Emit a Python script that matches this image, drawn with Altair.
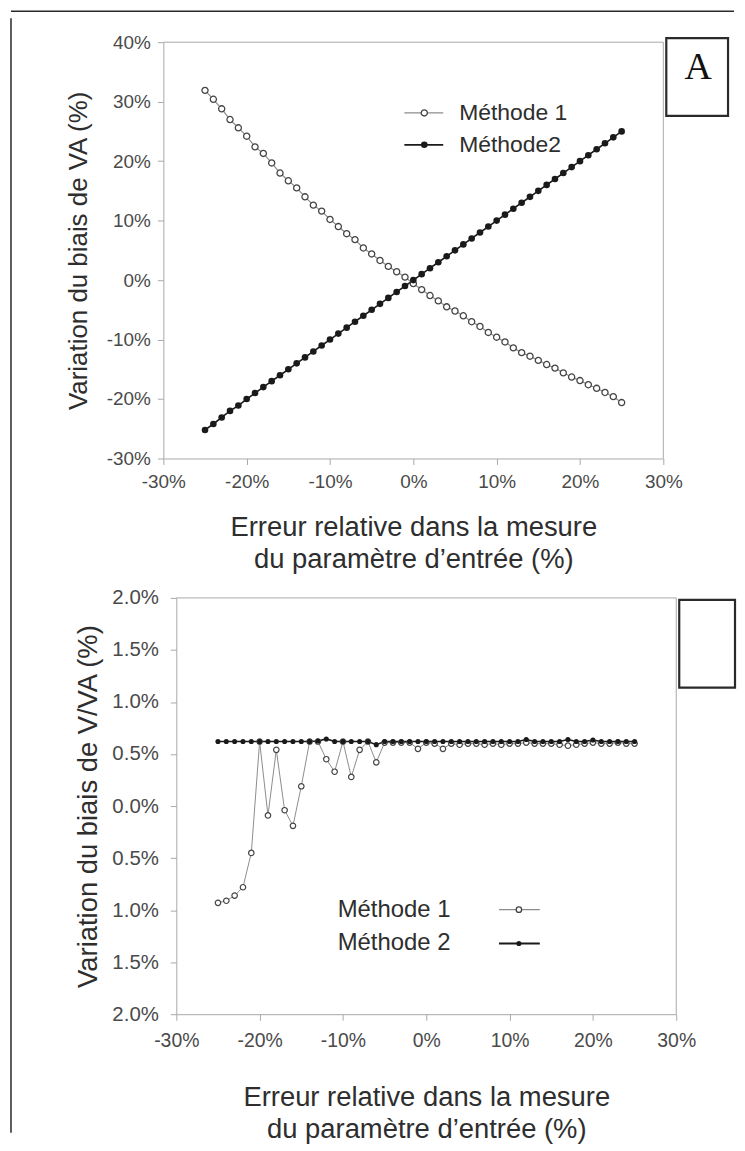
import altair as alt
import pandas as pd

# ---------------- data (values in %) ----------------
errors = list(range(-25, 26))  # relative error of input parameter (%)

# Panel A : variation of VA bias (%)
a_m1 = [31.9, 30.4, 28.8, 27.0, 25.6, 24.2, 22.4, 21.3, 19.7, 18.0,
        16.7, 15.5, 14.0, 12.6, 11.6, 10.2, 9.0, 7.8, 6.8, 5.4,
        4.4, 3.3, 2.3, 1.4, 0.5, -0.6, -1.6, -2.6, -3.5, -4.5,
        -5.2, -6.0, -7.0, -7.8, -8.8, -9.6, -10.4, -11.4, -12.2, -12.8,
        -13.5, -14.2, -14.8, -15.6, -16.3, -16.9, -17.6, -18.2, -18.9, -19.6, -20.6]
a_m2 = [-25.2, -24.2, -23.1, -22.0, -21.1, -20.0, -19.0, -18.0, -17.0, -16.0,
        -15.0, -14.0, -13.0, -12.0, -11.0, -10.0, -9.0, -8.0, -7.0, -6.0,
        -5.0, -4.0, -3.0, -2.0, -1.0, 0.0, 1.0, 2.0, 3.0, 4.0,
        5.0, 6.0, 7.0, 8.0, 9.0, 10.0, 11.0, 12.0, 13.0, 14.0,
        15.0, 16.0, 17.0, 18.0, 19.0, 20.0, 21.0, 22.0, 23.0, 24.0, 25.0]

# Panel B : variation of V/VA bias (%)
b_m1 = [-0.93, -0.91, -0.86, -0.78, -0.45, 0.62, -0.09, 0.54, -0.04, -0.19,
        0.19, 0.62, 0.62, 0.45, 0.33, 0.62, 0.28, 0.54, 0.62, 0.42,
        0.61, 0.61, 0.61, 0.61, 0.55, 0.61, 0.60, 0.55, 0.60, 0.59,
        0.60, 0.60, 0.59, 0.60, 0.59, 0.60, 0.60, 0.61, 0.60, 0.60,
        0.60, 0.59, 0.58, 0.59, 0.60, 0.61, 0.60, 0.60, 0.61, 0.60, 0.60]
b_m2 = [0.62, 0.62, 0.62, 0.62, 0.62, 0.62, 0.62, 0.62, 0.62, 0.62,
        0.62, 0.62, 0.625, 0.645, 0.62, 0.62, 0.62, 0.62, 0.62, 0.59,
        0.62, 0.62, 0.62, 0.62, 0.62, 0.62, 0.62, 0.62, 0.62, 0.62,
        0.62, 0.62, 0.62, 0.62, 0.62, 0.62, 0.62, 0.64, 0.62, 0.62,
        0.62, 0.62, 0.64, 0.62, 0.62, 0.635, 0.62, 0.62, 0.62, 0.62, 0.62]

legend_a = ["Méthode 1", "Méthode2"]
legend_b = ["Méthode 1", "Méthode 2"]
panel_label = ["A"]
x_ticks = [-30, -20, -10, 0, 10, 20, 30]
ya_ticks = [-30, -20, -10, 0, 10, 20, 30, 40]
yb_ticks = [-2.0, -1.5, -1.0, -0.5, 0.0, 0.5, 1.0, 1.5, 2.0]
x_title = ["Erreur relative dans la mesure", "du paramètre d’entrée (%)"]
ya_title = "Variation du biais de VA (%)"
yb_title = "Variation du biais de V/VA (%)"

# ---------------- style ----------------
FONT = "Liberation Sans"
FRAME = "#a8a8a8"
LABEL_C = "#4a4a4a"
TITLE_C = "#2e2e2e"
M1_LINE = "#8c8c8c"
M1_EDGE = "#444444"
M2_COL = "#1a1a1a"
BORDER = "#2a2a2a"

H = 418
WA = 502
SHIFT = 13
WB = 502 + SHIFT
TOP_A = 31        # outer frame line above panel A plot
SPACER_A = 140    # invisible spacer below panel A plot (fixes A's lower bound)
PANEL_GAP = 133   # distance from bottom of A plot to top of B plot
LEAD_B = H + PANEL_GAP + TOP_A   # B's left frame line reaches up to the top frame line

one = pd.DataFrame({"k": [0]})


def hrule(x1, x2, y, color, w=1.0):
    return alt.Chart(one).mark_rule(color=color, strokeWidth=w).encode(
        x=alt.value(x1), x2=alt.value(x2), y=alt.value(y))


def vrule(x, y1, y2, color, w=1.0, op=1.0):
    return alt.Chart(one).mark_rule(color=color, strokeWidth=w, opacity=op).encode(
        x=alt.value(x), y=alt.value(y1), y2=alt.value(y2))


def label(text, x, y, size, font=FONT, color=TITLE_C, baseline="middle", align="left"):
    return alt.Chart(pd.DataFrame({"t": [text]})).mark_text(
        font=font, fontSize=size, color=color, baseline=baseline, align=align
    ).encode(x=alt.value(x), y=alt.value(y), text="t:N")


def hollow(x, y, size):
    return alt.Chart(one).mark_circle(size=size, fill="white", stroke=M1_EDGE,
                                      strokeWidth=1.3, opacity=1).encode(
        x=alt.value(x), y=alt.value(y))


def dot(x, y, size):
    return alt.Chart(one).mark_circle(size=size, color=M2_COL, opacity=1).encode(
        x=alt.value(x), y=alt.value(y))


def box(x1, x2, y1, y2):
    return alt.Chart(one).mark_rect(fill="white", stroke=BORDER, strokeWidth=2.2).encode(
        x=alt.value(x1), x2=alt.value(x2), y=alt.value(y1), y2=alt.value(y2))


common_axis = dict(grid=False, domainColor=FRAME, tickColor=FRAME, tickSize=6,
                   labelColor=LABEL_C, labelFont=FONT,
                   titleFont=FONT, titleFontWeight="normal",
                   titleColor=TITLE_C, labelFlush=False, labelOverlap=False)

# ---------------- panel A ----------------
xs_a = alt.Scale(domain=[-30, 30], nice=False, zero=False)
ys_a = alt.Scale(domain=[-30, 40], nice=False, zero=False)
xa_axis = alt.Axis(values=x_ticks, labelExpr="datum.value + '%'", title=x_title,
                   titleX=WA / 2, titleY=55, titleBaseline="top", titleAlign="center",
                   titleLineHeight=32, titleFontSize=27.5, labelFontSize=19,
                   labelPadding=8, **common_axis)
ya_axis = alt.Axis(values=ya_ticks, labelExpr="datum.value + '%'", title=ya_title,
                   titleX=-85, titleY=H / 2, titleBaseline="middle", titleAlign="center",
                   titleFontSize=26, labelFontSize=19, labelPadding=7, **common_axis)

dfa1 = pd.DataFrame({"e": errors, "v": a_m1})
dfa2 = pd.DataFrame({"e": errors, "v": a_m2})

enc_a = dict(x=alt.X("e:Q", scale=xs_a, axis=xa_axis),
             y=alt.Y("v:Q", scale=ys_a, axis=ya_axis))

a_layers = [
    vrule(0, H, H + SPACER_A, "white", 1.0, 0.0),
    hrule(-153, 573, -TOP_A, BORDER, 1.5),
    hrule(0, WA, 0, FRAME),
    vrule(WA, 0, H, FRAME),
    alt.Chart(dfa1).mark_line(color=M1_LINE, strokeWidth=1.2).encode(**enc_a),
    alt.Chart(dfa2).mark_line(color=M2_COL, strokeWidth=1.6).encode(**enc_a),
    alt.Chart(dfa1).mark_circle(size=38, fill="white", stroke=M1_EDGE, strokeWidth=1.3,
                                opacity=1).encode(**enc_a),
    alt.Chart(dfa2).mark_circle(size=44, color=M2_COL, opacity=1).encode(**enc_a),
    # legend
    hrule(242, 281, 71, M1_LINE, 1.2), hollow(262, 71, 38),
    label(legend_a[0], 297, 71, 23),
    hrule(242, 281, 103, M2_COL, 1.8), dot(262, 103, 44),
    label(legend_a[1], 297, 103, 23),
    # panel tag
    box(505, 567, -4, 74),
    label(panel_label[0], 537, 37, 38, font="Liberation Serif", color="#111",
          baseline="alphabetic", align="center"),
]
chart_a = alt.layer(*a_layers).properties(width=WA, height=H)

# ---------------- panel B ----------------
xs_b = alt.Scale(domain=[-30, 30], range=[SHIFT, WB], nice=False, zero=False)
ys_b = alt.Scale(domain=[-2, 2], nice=False, zero=False)
xb_axis = alt.Axis(values=x_ticks, labelExpr="datum.value + '%'", title=x_title,
                   titleX=SHIFT + 251, titleY=70, titleBaseline="top", titleAlign="center",
                   titleLineHeight=32, titleFontSize=27.5, labelFontSize=19.5,
                   labelPadding=11, **common_axis)
yb_axis = alt.Axis(values=yb_ticks, labelExpr="format(abs(datum.value), '.1f') + '%'",
                   title=yb_title, titleX=-88, titleY=H / 2, titleBaseline="middle",
                   titleAlign="center", titleFontSize=27.5, labelFontSize=20.5,
                   labelPadding=12, offset=-SHIFT, **common_axis)

dfb1 = pd.DataFrame({"e": errors, "v": b_m1})
dfb2 = pd.DataFrame({"e": errors, "v": b_m2})
enc_b = dict(x=alt.X("e:Q", scale=xs_b, axis=xb_axis),
             y=alt.Y("v:Q", scale=ys_b, axis=yb_axis))

b_layers = [
    vrule(-153, -LEAD_B, 537, BORDER, 1.5),
    hrule(SHIFT, WB, 0, FRAME),
    vrule(WB, 0, H, FRAME),
    alt.Chart(dfb1).mark_line(color=M1_LINE, strokeWidth=1.0).encode(**enc_b),
    alt.Chart(dfb2).mark_line(color=M2_COL, strokeWidth=1.6).encode(**enc_b),
    alt.Chart(dfb1).mark_circle(size=30, fill="white", stroke=M1_EDGE, strokeWidth=1.2,
                                opacity=1).encode(**enc_b),
    alt.Chart(dfb2).mark_circle(size=26, color=M2_COL, opacity=1).encode(**enc_b),
    # legend
    label(legend_b[0], 175, 313, 24),
    hrule(337, 378, 313, M1_LINE, 1.2), hollow(357, 313, 30),
    label(legend_b[1], 175, 347, 24),
    hrule(337, 378, 347, M2_COL, 1.8), dot(357, 347, 26),
    # empty panel tag
    box(518, 574, 2, 90),
]
chart_b = alt.layer(*b_layers).properties(width=WB, height=H)

# B's top bound (its frame line) lands on A's top frame line
spacing = (PANEL_GAP - LEAD_B - 0.75) - (SPACER_A + 0.5)

chart = alt.vconcat(chart_a, chart_b, spacing=spacing).resolve_scale(
    x="independent", y="independent"
).properties(
    padding={"left": 2, "top": 0, "right": 0, "bottom": 0}
).configure_view(strokeWidth=0)

chart.save("out.html", embed_options={"renderer": "svg", "actions": False})
